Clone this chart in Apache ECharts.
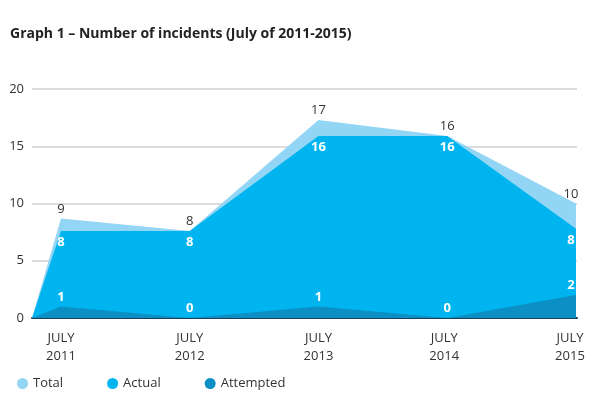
<!DOCTYPE html>
<html>
<head>
<meta charset="utf-8">
<script src="https://cdn.jsdelivr.net/npm/echarts@6/dist/echarts.min.js"></script>
<style>
  html, body { margin: 0; padding: 0; background: #fff; }
  #chart { width: 600px; height: 401px; }
</style>
</head>
<body>
<div id="chart"></div>
<script>
// data (drawn heights; labels show the rounded counts)
const years = ["2011", "2012", "2013", "2014", "2015"];
const total = [8.7, 7.6, 17.3, 15.9, 10];
const actual = [7.6, 7.6, 15.9, 15.9, 7.8];
const attempted = [1, 0, 1, 0, 2];
const yTicks = [0, 5, 10, 15, 20];

const START = -0.225; // areas start at the y axis with 0

const font = "Open Sans";

// last point sits on the right edge, so its label is nudged inward
const toPoints = arr =>
  [[START, 0]].concat(
    arr.map((v, i) =>
      i === arr.length - 1 ? { value: [i, v], label: { offset: [-5, 0] } } : [i, v]
    )
  );

const chart = echarts.init(document.getElementById("chart"));

const labelFmt = p => (p.value[0] < 0 ? "" : String(Math.round(p.value[1])));

const areaSeries = (name, data, color, z, label) => ({
  name,
  type: "line",
  data: toPoints(data),
  symbol: "circle",
  symbolSize: 0,
  showSymbol: true,
  clip: false,
  lineStyle: { width: 0 },
  itemStyle: { color },
  areaStyle: { color, opacity: 1 },
  label: Object.assign({ show: true, fontSize: 13, formatter: labelFmt }, label),
  z,
});

const option = {
  animation: false,
  textStyle: { fontFamily: font },
  title: {
    text: "Graph 1 – Number of incidents (July of 2011-2015)",
    left: 5,
    top: 22,
    textStyle: { fontSize: 14, fontWeight: "bold", color: "#222", fontFamily: font },
  },
  legend: {
    left: 12,
    top: 372,
    itemWidth: 11,
    itemHeight: 11,
    itemGap: 44,
    icon: "circle",
    textStyle: { fontSize: 13, color: "#333", fontFamily: font },
    data: ["Total", "Actual", "Attempted"],
  },
  grid: { left: 32, right: 23, top: 89, bottom: 83 },
  xAxis: {
    type: "value",
    min: START,
    max: 4.008,
    splitLine: { show: false },
    axisTick: { show: false },
    axisLine: { show: true, onZero: true, lineStyle: { color: "#1c3f5c", width: 2 } },
    axisLabel: {
      customValues: [0, 1, 2, 3, 4],
      formatter: v => {
        const i = Math.round(v);
        const s = i === years.length - 1 ? "e" : i === years.length - 2 ? "m" : "n";
        return "{" + s + "|JULY}\n{" + s + "|" + years[i] + "}";
      },
      color: "#333",
      fontSize: 13,
      lineHeight: 18,
      margin: 11,
      fontFamily: font,
      rich: {
        n: { fontSize: 13, lineHeight: 18, color: "#333" },
        m: { fontSize: 13, lineHeight: 18, color: "#333", padding: [0, 6, 0, 0] },
        e: { fontSize: 13, lineHeight: 18, color: "#333", padding: [0, 12, 0, 0] },
      },
    },
  },
  yAxis: {
    type: "value",
    min: yTicks[0],
    max: yTicks[yTicks.length - 1],
    interval: 5,
    axisLine: { show: false },
    axisTick: { show: false },
    axisLabel: { color: "#333", fontSize: 13, margin: 8, fontFamily: font },
    splitLine: { lineStyle: { color: "#dcdcdc", width: 2 } },
  },
  series: [
    areaSeries("Total", total, "#93d5f4", 1, { position: "top", distance: 3, color: "#333" }),
    areaSeries("Actual", actual, "#00b5ef", 2, { position: "bottom", distance: 5, color: "#fff", fontWeight: "bold" }),
    areaSeries("Attempted", attempted, "#0b8fc4", 3, { position: "top", distance: 3, color: "#fff", fontWeight: "bold" }),
  ],
};

chart.setOption(option);
</script>
</body>
</html>
